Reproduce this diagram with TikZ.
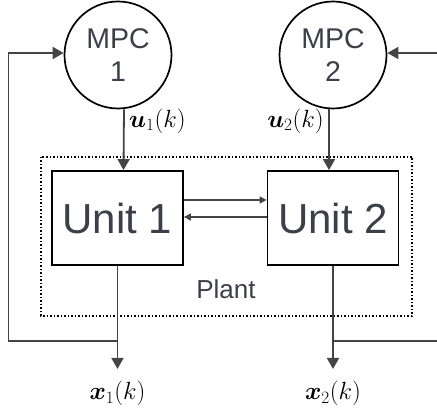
\documentclass[tikz,border=0pt]{standalone}
\usepackage{fontspec}
\usepackage{bm}
\setmainfont{Liberation Sans}
\usetikzlibrary{arrows.meta,positioning}
\definecolor{linegray}{HTML}{444444}
\definecolor{textgray}{HTML}{3A3F48}
\tikzset{
    mpc/.style = {circle, draw=black, line width=1.7pt, minimum size=107pt, inner sep=0pt,
        align=center, text=textgray, font=\fontsize{28.5}{33}\selectfont},
    unit/.style = {rectangle, draw=black, line width=1.8pt, minimum width=131pt, minimum height=94pt,
        inner sep=0pt, text=textgray, font=\fontsize{42}{46}\selectfont},
    conn/.style = {draw=linegray, line width=1.8pt, -{Triangle[length=11pt,width=12pt]}},
    small/.style = {draw=linegray, line width=1.5pt, -{Triangle[length=7pt,width=7pt]}},
    sig/.style = {inner sep=0pt, font=\fontsize{26}{30}\selectfont}
}
\begin{document}
\begin{tikzpicture}[x=1pt, y=-1pt]
        \useasboundingbox (0,0) rectangle (437,411);
        \clip (0,0) rectangle (437,411);
        % controllers
        \node [mpc] (mpc1) at (118,55) {MPC\\1};
        \node [mpc] (mpc2) at (333,55) {MPC\\2};
        % plant
        \draw [black, line width=1.2pt, dash pattern=on 1.5pt off 2pt] (41,157) rectangle (412,316);
        \node [unit] (unit1) at (117.5,218) {Unit 1};
        \node [unit] (unit2) at (333,218) {Unit 2};
        \node [text=textgray, font=\fontsize{26}{30}\selectfont] (plant) at (226,289) {Plant};
        % inputs
        \draw [conn] ([xshift=6pt]mpc1.south) -- ([xshift=6pt]unit1.north);
        \draw [conn] ([xshift=-4pt]mpc2.south) -- ([xshift=-4pt]unit2.north);
        \node [sig, anchor=west] (u1) at (129,121) {$\bm{u}_1(k)$};
        \node [sig, anchor=east] (u2) at (324,121) {$\bm{u}_2(k)$};
        % coupling
        \draw [small] ([yshift=1pt]unit2.west) -- ([yshift=1pt]unit1.east);
        \draw [small] ([yshift=18pt]unit1.east) -- ([yshift=18pt]unit2.west);
        % outputs
        \coordinate (x1end) at (unit1.south |- 0,369);
        \coordinate (x2end) at (unit2.south |- 0,369);
        \draw [conn] (unit1.south) -- (x1end);
        \draw [conn] (unit2.south) -- (x2end);
        \node [sig, below=12pt of x1end] (x1) {$\bm{x}_1(k)$};
        \node [sig, below=12pt of x2end] (x2) {$\bm{x}_2(k)$};
        % feedback
        \coordinate (fb1) at (unit1.south |- 0,341);
        \coordinate (fb2) at (unit2.south |- 0,341);
        \draw [conn] (fb1) -- ++(-109,0) |- ([yshift=2pt]mpc1.west);
        \draw [conn] (fb2) -- ++(110,0) |- ([yshift=2pt]mpc2.east);
    \end{tikzpicture}
\end{document}
